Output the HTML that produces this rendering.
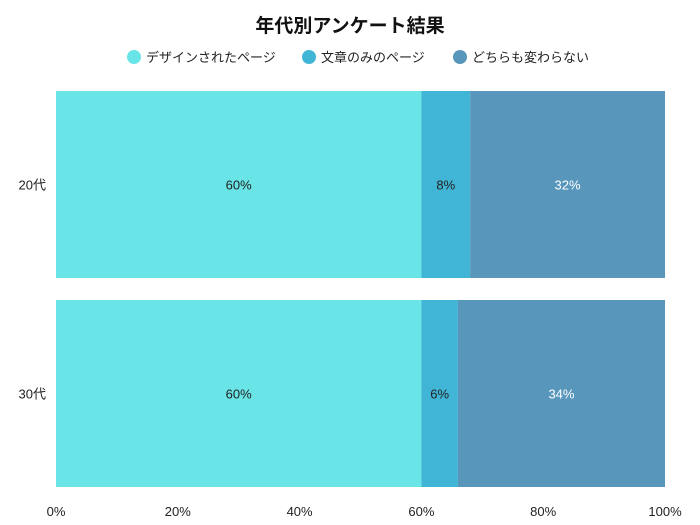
<!DOCTYPE html>
<html><head><meta charset="utf-8"><style>
html,body{margin:0;padding:0;background:#fff;}
svg{display:block;font-family:"Liberation Sans","Noto Sans CJK JP",sans-serif;}
</style></head><body>
<svg id="chart" width="700" height="525" viewBox="0 0 700 525">
<text x="350" y="32" text-anchor="middle" font-size="19" font-weight="bold" fill="#111">年代別アンケート結果</text>
<g id="legend"></g>
<g id="bars"></g>
<g id="axis"></g>
</svg>
<script>
const categories = ["20代", "30代"];
const seriesNames = ["デザインされたページ", "文章のみのページ", "どちらも変わらない"];
const designed = [60, 60];
const textOnly = [8, 6];
const noDiff = [32, 34];
const tickLabels = ["0%", "20%", "40%", "60%", "80%", "100%"];
const tickValues = [0, 20, 40, 60, 80, 100];

const colors = ["#6ae5e7", "#40b5d5", "#5996bc"];
const textColors = ["#222", "#222", "#fff"];
const NS = "http://www.w3.org/2000/svg";
const x0 = 56, x1 = 665, yTop = 80, yBottom = 498;
const xs = v => x0 + (x1 - x0) * v / 100;
const band = (yBottom - yTop) / categories.length;
const barH = band - 22;
const yc = i => yTop + band * i + band / 2;
function mk(tag, attrs, parent) { const e = document.createElementNS(NS, tag); for (const k in attrs) e.setAttribute(k, attrs[k]); parent.appendChild(e); return e; }

const series = [designed, textOnly, noDiff];
const bars = document.getElementById("bars");
categories.forEach((c, i) => {
  let acc = 0;
  series.forEach((s, j) => {
    const r = mk("rect", {x: xs(acc), y: yc(i) - barH / 2, width: xs(acc + s[i]) - xs(acc), height: barH, fill: colors[j]}, bars);
    
    
    const t = mk("text", {x: (xs(acc) + xs(acc + s[i])) / 2, y: yc(i) + 5, "text-anchor": "middle", "font-size": "13", fill: textColors[j]}, bars);
    t.textContent = s[i] + "%";
    
    
    acc += s[i];
  });
  const l = mk("text", {x: 46, y: yc(i) + 5, "text-anchor": "end", "font-size": "13", fill: "#222"}, bars);
  l.textContent = c;
  
  
});

const axis = document.getElementById("axis");
tickValues.forEach((v, i) => {
  const t = mk("text", {x: xs(v), y: 516, "text-anchor": "middle", "font-size": "13", fill: "#222"}, axis);
  t.textContent = tickLabels[i];
  
  
});

const legend = document.getElementById("legend");
const lx = [134, 309, 460];
seriesNames.forEach((n, j) => {
  const g = mk("g", {}, legend);
  
  
  mk("circle", {cx: lx[j], cy: 57, r: 7, fill: colors[j]}, g);
  const t = mk("text", {x: lx[j] + 12, y: 62, "font-size": "13", fill: "#222"}, g);
  t.textContent = n;
});
</script>
</body></html>
